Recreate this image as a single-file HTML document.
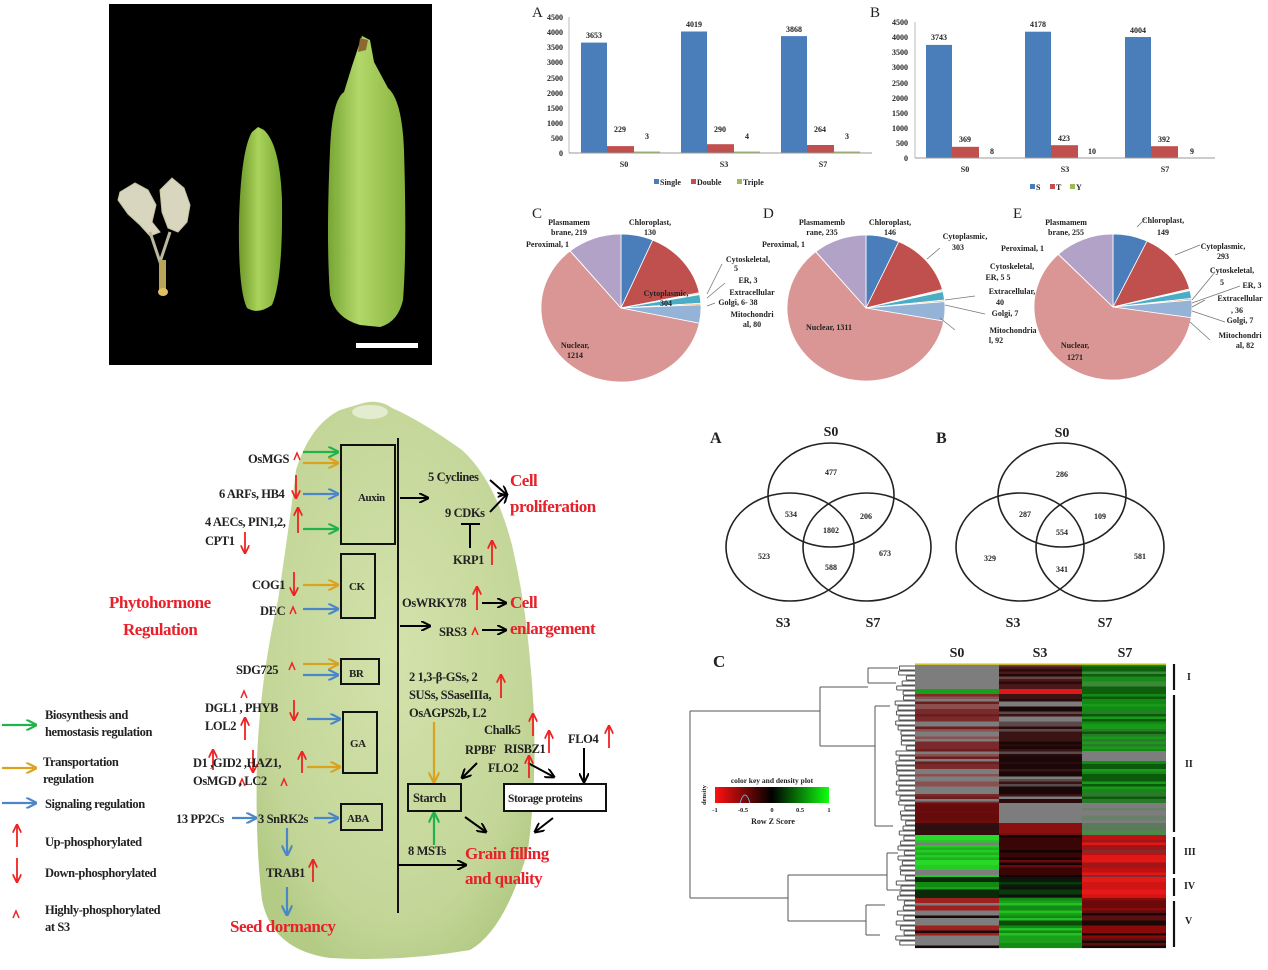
<!DOCTYPE html>
<html><head><meta charset="utf-8"><style>
html,body{margin:0;padding:0;background:#fff;}
svg{display:block;}
.t{font-family:"Liberation Serif",serif;font-weight:bold;fill:#222;}
.s8{font-size:8px}.s9{font-size:9px}.s10{font-size:10px}.s11{font-size:11px}.s12{font-size:12.5px;letter-spacing:-0.4px}
.r{font-family:"Liberation Serif",serif;font-weight:bold;fill:#e8202a;font-size:17px;letter-spacing:-0.5px}
</style></head><body>
<svg id="S" width="1268" height="970" viewBox="0 0 1268 970" xmlns="http://www.w3.org/2000/svg">
<defs>
<linearGradient id="gs" x1="0" x2="1"><stop offset="0" stop-color="#6f9a2a"/><stop offset="0.45" stop-color="#a9d35a"/><stop offset="1" stop-color="#7aa833"/></linearGradient>
<linearGradient id="gb" x1="0" x2="1"><stop offset="0" stop-color="#77a533"/><stop offset="0.4" stop-color="#b2d86a"/><stop offset="1" stop-color="#86b23c"/></linearGradient>
<radialGradient id="seed" cx="0.5" cy="0.45" r="0.6"><stop offset="0" stop-color="#d3e2ab"/><stop offset="0.8" stop-color="#c3d698"/><stop offset="1" stop-color="#b4cb86"/></radialGradient>
<linearGradient id="ck" x1="0" x2="1"><stop offset="0" stop-color="#ff1010"/><stop offset="0.5" stop-color="#000"/><stop offset="1" stop-color="#10ff10"/></linearGradient>
<marker id="ab" viewBox="0 0 10 10" refX="9" refY="5" markerWidth="5" markerHeight="5" orient="auto"><path d="M0,0 L10,5 L0,10" fill="none" stroke="#000" stroke-width="2"/></marker>
<marker id="ag" viewBox="0 0 10 10" refX="9" refY="5" markerWidth="5" markerHeight="5" orient="auto"><path d="M0,0 L10,5 L0,10" fill="none" stroke="#22b24c" stroke-width="2"/></marker>
<marker id="ao" viewBox="0 0 10 10" refX="9" refY="5" markerWidth="5" markerHeight="5" orient="auto"><path d="M0,0 L10,5 L0,10" fill="none" stroke="#d9a21f" stroke-width="2"/></marker>
<marker id="au" viewBox="0 0 10 10" refX="9" refY="5" markerWidth="5" markerHeight="5" orient="auto"><path d="M0,0 L10,5 L0,10" fill="none" stroke="#4a86c8" stroke-width="2"/></marker>
<marker id="ar" viewBox="0 0 10 10" refX="9" refY="5" markerWidth="5" markerHeight="5" orient="auto"><path d="M0,0 L10,5 L0,10" fill="none" stroke="#ee2222" stroke-width="2"/></marker>
</defs>

<!-- PHOTO -->
<rect x="109" y="4" width="323" height="361" fill="#000"/>
<g fill="#d9d6c0" stroke="#c9c3a0" stroke-width="1">
<path d="M120,192 L135,183 L148,190 L156,205 L152,222 L160,232 L150,236 L140,225 L128,214 L118,200Z"/>
<path d="M160,190 L172,178 L184,188 L190,205 L187,222 L178,232 L168,228 L162,212Z"/>
</g>
<path d="M150,232 L160,262 L170,232" fill="none" stroke="#bdb9a0" stroke-width="3"/>
<rect x="159" y="260" width="7" height="30" fill="#b9a55a"/>
<ellipse cx="163" cy="292" rx="5" ry="4" fill="#e0c060"/>
<path d="M258,127 L264,130 Q280,145 282,200 Q283,280 272,305 Q258,315 247,308 Q238,290 239,220 Q241,150 252,132Z" fill="url(#gs)"/>
<path d="M362,36 L370,40 L374,62 L388,88 Q402,100 404,150 Q407,250 403,300 Q398,322 380,327 L360,325 Q335,318 330,295 Q326,240 330,150 Q332,100 344,92 L352,66Z" fill="url(#gb)"/>
<path d="M360,38 L368,40 L366,50 L358,52Z" fill="#8a6a30"/>
<rect x="356" y="343" width="62" height="5" fill="#fff"/>

<!-- BAR CHART A -->
<text class="t" x="532" y="17" style="font-size:15px;font-weight:normal">A</text>
<g class="t s8" text-anchor="end">
<text x="563" y="156">0</text><text x="563" y="141">500</text><text x="563" y="126">1000</text><text x="563" y="111">1500</text><text x="563" y="96">2000</text><text x="563" y="81">2500</text><text x="563" y="65">3000</text><text x="563" y="50">3500</text><text x="563" y="35">4000</text><text x="563" y="20">4500</text>
</g>
<line x1="569" y1="17" x2="569" y2="153" stroke="#bbb"/>
<g>
<rect x="581" y="42.6" width="26" height="110.4" fill="#4a7ebb"/><rect x="607" y="146.1" width="27" height="6.9" fill="#c0504d"/><rect x="634" y="151.5" width="26" height="1.5" fill="#9bbb59"/>
<rect x="681" y="31.5" width="26" height="121.5" fill="#4a7ebb"/><rect x="707" y="144.2" width="27" height="8.8" fill="#c0504d"/><rect x="734" y="151.5" width="26" height="1.5" fill="#9bbb59"/>
<rect x="781" y="36.1" width="26" height="116.9" fill="#4a7ebb"/><rect x="807" y="145" width="27" height="8" fill="#c0504d"/><rect x="834" y="151.5" width="26" height="1.5" fill="#9bbb59"/>
</g>
<line x1="569" y1="153" x2="872" y2="153" stroke="#999"/>
<g class="t s8" text-anchor="middle">
<text x="594" y="38">3653</text><text x="620" y="132">229</text><text x="647" y="139">3</text>
<text x="694" y="27">4019</text><text x="720" y="132">290</text><text x="747" y="139">4</text>
<text x="794" y="32">3868</text><text x="820" y="132">264</text><text x="847" y="139">3</text>
<text x="624" y="167">S0</text><text x="724" y="167">S3</text><text x="823" y="167">S7</text>
</g>
<rect x="654" y="179" width="5" height="5" fill="#4a7ebb"/><text class="t s8" x="660" y="185">Single</text>
<rect x="691" y="179" width="5" height="5" fill="#c0504d"/><text class="t s8" x="697" y="185">Double</text>
<rect x="737" y="179" width="5" height="5" fill="#9bbb59"/><text class="t s8" x="743" y="185">Triple</text>

<!-- BAR CHART B -->
<text class="t" x="870" y="17" style="font-size:15px;font-weight:normal">B</text>
<g class="t s8" text-anchor="end">
<text x="908" y="161">0</text><text x="908" y="146">500</text><text x="908" y="131">1000</text><text x="908" y="116">1500</text><text x="908" y="101">2000</text><text x="908" y="86">2500</text><text x="908" y="70">3000</text><text x="908" y="55">3500</text><text x="908" y="40">4000</text><text x="908" y="25">4500</text>
</g>
<line x1="915" y1="22" x2="915" y2="158" stroke="#bbb"/>
<rect x="926" y="44.9" width="26" height="113.1" fill="#4a7ebb"/><rect x="952" y="146.8" width="27" height="11.2" fill="#c0504d"/>
<rect x="1025" y="31.7" width="26" height="126.3" fill="#4a7ebb"/><rect x="1051" y="145.2" width="27" height="12.8" fill="#c0504d"/>
<rect x="1125" y="37" width="26" height="121" fill="#4a7ebb"/><rect x="1151" y="146.2" width="27" height="11.8" fill="#c0504d"/>
<line x1="915" y1="158" x2="1215" y2="158" stroke="#999"/>
<g class="t s8" text-anchor="middle">
<text x="939" y="40">3743</text><text x="965" y="142">369</text><text x="992" y="154">8</text>
<text x="1038" y="27">4178</text><text x="1064" y="141">423</text><text x="1092" y="154">10</text>
<text x="1138" y="33">4004</text><text x="1164" y="142">392</text><text x="1192" y="154">9</text>
<text x="965" y="172">S0</text><text x="1065" y="172">S3</text><text x="1165" y="172">S7</text>
</g>
<rect x="1030" y="184" width="5" height="5" fill="#4a7ebb"/><text class="t s8" x="1036" y="190">S</text>
<rect x="1050" y="184" width="5" height="5" fill="#c0504d"/><text class="t s8" x="1056" y="190">T</text>
<rect x="1070" y="184" width="5" height="5" fill="#9bbb59"/><text class="t s8" x="1076" y="190">Y</text>

<!-- PIES -->
<g id="pies"></g>
<g class="t" style="font-size:15px;font-weight:normal"><text x="532" y="218">C</text><text x="763" y="218">D</text><text x="1013" y="218">E</text></g>
<g class="t s8" text-anchor="middle">
<text x="569" y="225">Plasmamem</text><text x="569" y="235">brane, 219</text>
<text x="650" y="225">Chloroplast,</text><text x="650" y="235">130</text>
<text x="666" y="296">Cytoplasmic,</text><text x="666" y="306">304</text>
<text x="748" y="262">Cytoskeletal,</text><text x="736" y="271">5</text>
<text x="748" y="283">ER, 3</text><text x="752" y="295">Extracellular</text><text x="738" y="305">Golgi, 6- 38</text>
<text x="752" y="317">Mitochondri</text><text x="752" y="327">al, 80</text>
<text x="575" y="348">Nuclear,</text><text x="575" y="358">1214</text>
<text x="822" y="225">Plasmamemb</text><text x="822" y="235">rane, 235</text>
<text x="890" y="225">Chloroplast,</text><text x="890" y="235">146</text>
<text x="965" y="239">Cytoplasmic,</text><text x="958" y="250">303</text>
<text x="1012" y="269">Cytoskeletal,</text><text x="998" y="280">ER, 5 5</text>
<text x="1012" y="294">Extracellular,</text><text x="1000" y="305">40</text>
<text x="1005" y="316">Golgi, 7</text><text x="1013" y="333">Mitochondria</text><text x="996" y="343">l, 92</text>
<text x="829" y="330">Nuclear, 1311</text>
<text x="1066" y="225">Plasmamem</text><text x="1066" y="235">brane, 255</text>
<text x="1163" y="223">Chloroplast,</text><text x="1163" y="235">149</text>
<text x="1223" y="249">Cytoplasmic,</text><text x="1223" y="259">293</text>
<text x="1232" y="273">Cytoskeletal,</text><text x="1222" y="285">5</text><text x="1252" y="288">ER, 3</text>
<text x="1240" y="301">Extracellular</text><text x="1237" y="313">, 36</text>
<text x="1240" y="323">Golgi, 7</text><text x="1240" y="338">Mitochondri</text><text x="1245" y="348">al, 82</text>
<text x="1075" y="348">Nuclear,</text><text x="1075" y="360">1271</text>
</g>
<g class="t s8"><text x="526" y="247">Peroximal, 1</text><text x="762" y="247">Peroximal, 1</text><text x="1001" y="251">Peroximal, 1</text></g>
<g fill="none" stroke="#777" stroke-width="0.8">
<path d="M927,259 L940,248"/><path d="M945,300 L975,296"/><path d="M945,305 L985,314"/><path d="M940,318 L955,330"/>
<path d="M1137,227 L1145,219"/><path d="M1175,255 L1200,245"/><path d="M1192,300 L1215,272"/><path d="M1192,303 L1240,286"/><path d="M1192,307 L1205,300"/><path d="M1192,311 L1225,322"/><path d="M1190,322 L1210,340"/>
<path d="M707,294 L722,264"/><path d="M707,298 L725,283"/><path d="M707,306 L715,303"/>
</g>

<!-- SEED DIAGRAM -->
<path d="M360,404 Q378,398 392,408 Q420,420 462,450 Q495,480 512,545 Q525,600 530,660 Q540,760 528,850 Q505,930 470,950 Q400,962 330,958 Q272,950 262,900 Q255,840 257,760 Q260,680 278,600 Q290,520 296,470 Q310,425 340,410Z" fill="url(#seed)"/>
<ellipse cx="370" cy="412" rx="18" ry="7" fill="#e4ecd0"/>
<g fill="none" stroke="#111" stroke-width="2">
<rect x="341" y="445" width="54" height="99"/><rect x="341" y="554" width="34" height="64"/><rect x="341" y="659" width="38" height="25"/><rect x="343" y="712" width="34" height="61"/><rect x="341" y="804" width="41" height="26"/>
<rect x="408" y="784" width="53" height="27"/><rect x="504" y="784" width="102" height="27" fill="#fff"/>
<line x1="398" y1="438" x2="398" y2="913"/>
</g>
<rect x="505" y="785" width="100" height="25" fill="#fff"/>
<g fill="none" stroke-width="2.2">
<line x1="303" y1="452" x2="338" y2="452" stroke="#22b24c" marker-end="url(#ag)"/>
<line x1="303" y1="463" x2="338" y2="463" stroke="#d9a21f" marker-end="url(#ao)"/>
<line x1="303" y1="494" x2="338" y2="494" stroke="#4a86c8" marker-end="url(#au)"/>
<line x1="303" y1="529" x2="338" y2="529" stroke="#22b24c" marker-end="url(#ag)"/>
<line x1="303" y1="585" x2="338" y2="585" stroke="#d9a21f" marker-end="url(#ao)"/>
<line x1="303" y1="609" x2="338" y2="609" stroke="#4a86c8" marker-end="url(#au)"/>
<line x1="303" y1="664" x2="338" y2="664" stroke="#d9a21f" marker-end="url(#ao)"/>
<line x1="303" y1="675" x2="338" y2="675" stroke="#4a86c8" marker-end="url(#au)"/>
<line x1="307" y1="719" x2="340" y2="719" stroke="#4a86c8" marker-end="url(#au)"/>
<line x1="307" y1="767" x2="340" y2="767" stroke="#d9a21f" marker-end="url(#ao)"/>
<line x1="232" y1="818" x2="256" y2="818" stroke="#4a86c8" marker-end="url(#au)"/>
<line x1="314" y1="818" x2="338" y2="818" stroke="#4a86c8" marker-end="url(#au)"/>
<line x1="287" y1="828" x2="287" y2="855" stroke="#4a86c8" marker-end="url(#au)"/>
<line x1="287" y1="887" x2="287" y2="915" stroke="#4a86c8" marker-end="url(#au)"/>
<line x1="434" y1="722" x2="434" y2="782" stroke="#d9a21f" marker-end="url(#ao)"/>
<line x1="434" y1="845" x2="434" y2="813" stroke="#22b24c" marker-end="url(#ag)"/>
<line x1="2" y1="725" x2="36" y2="725" stroke="#22b24c" marker-end="url(#ag)"/>
<line x1="2" y1="768" x2="36" y2="768" stroke="#d9a21f" marker-end="url(#ao)"/>
<line x1="2" y1="803" x2="36" y2="803" stroke="#4a86c8" marker-end="url(#au)"/>
</g>
<g fill="none" stroke="#000" stroke-width="2">
<line x1="400" y1="498" x2="428" y2="498" marker-end="url(#ab)"/>
<line x1="490" y1="480" x2="507" y2="495" marker-end="url(#ab)"/>
<line x1="490" y1="512" x2="507" y2="494" marker-end="url(#ab)"/>
<line x1="470" y1="525" x2="470" y2="548"/><line x1="461" y1="524" x2="480" y2="524"/>
<line x1="482" y1="603" x2="506" y2="603" marker-end="url(#ab)"/>
<line x1="400" y1="626" x2="430" y2="626" marker-end="url(#ab)"/>
<line x1="482" y1="630" x2="506" y2="630" marker-end="url(#ab)"/>
<line x1="477" y1="763" x2="462" y2="778" marker-end="url(#ab)"/>
<line x1="528" y1="763" x2="554" y2="777" marker-end="url(#ab)"/>
<line x1="584" y1="748" x2="584" y2="782" marker-end="url(#ab)"/>
<line x1="465" y1="817" x2="486" y2="832" marker-end="url(#ab)"/>
<line x1="553" y1="818" x2="535" y2="832" marker-end="url(#ab)"/>
<line x1="398" y1="865" x2="466" y2="865" marker-end="url(#ab)"/>
</g>
<g fill="none" stroke="#ee2222" stroke-width="1.8">
<line x1="296" y1="475" x2="296" y2="498" marker-end="url(#ar)"/>
<line x1="298" y1="533" x2="298" y2="508" marker-end="url(#ar)"/>
<line x1="245" y1="532" x2="245" y2="553" marker-end="url(#ar)"/>
<line x1="294" y1="572" x2="294" y2="595" marker-end="url(#ar)"/>
<line x1="492" y1="565" x2="492" y2="541" marker-end="url(#ar)"/>
<line x1="477" y1="610" x2="477" y2="587" marker-end="url(#ar)"/>
<line x1="501" y1="698" x2="501" y2="675" marker-end="url(#ar)"/>
<line x1="294" y1="700" x2="294" y2="720" marker-end="url(#ar)"/>
<line x1="245" y1="740" x2="245" y2="718" marker-end="url(#ar)"/>
<line x1="213" y1="770" x2="213" y2="750" marker-end="url(#ar)"/>
<line x1="253" y1="750" x2="253" y2="772" marker-end="url(#ar)"/>
<line x1="302" y1="773" x2="302" y2="752" marker-end="url(#ar)"/>
<line x1="313" y1="882" x2="313" y2="860" marker-end="url(#ar)"/>
<line x1="533" y1="736" x2="533" y2="714" marker-end="url(#ar)"/>
<line x1="549" y1="753" x2="549" y2="731" marker-end="url(#ar)"/>
<line x1="529" y1="778" x2="529" y2="756" marker-end="url(#ar)"/>
<line x1="609" y1="748" x2="609" y2="726" marker-end="url(#ar)"/>
<line x1="17" y1="847" x2="17" y2="825" marker-end="url(#ar)"/>
<line x1="17" y1="858" x2="17" y2="882" marker-end="url(#ar)"/>
</g>
<g fill="none" stroke="#ee2222" stroke-width="1.5">
<path d="M294,460 L297,453 L300,460"/><path d="M290,614 L293,607 L296,614"/><path d="M289,670 L292,663 L295,670"/>
<path d="M472,635 L475,628 L478,635"/><path d="M241,698 L244,691 L247,698"/><path d="M239,786 L242,779 L245,786"/><path d="M281,786 L284,779 L287,786"/>
<path d="M13,918 L16,911 L19,918"/>
</g>
<g class="t s12">
<text x="248" y="463">OsMGS</text><text x="219" y="498">6 ARFs, HB4</text><text x="205" y="526">4 AECs, PIN1,2,</text><text x="205" y="545">CPT1</text>
<text x="358" y="501" style="font-size:11px">Auxin</text><text x="349" y="590" style="font-size:11px">CK</text><text x="349" y="677" style="font-size:11px">BR</text><text x="350" y="747" style="font-size:11px">GA</text><text x="347" y="822" style="font-size:11px">ABA</text>
<text x="252" y="589">COG1</text><text x="260" y="615">DEC</text><text x="236" y="674">SDG725</text>
<text x="428" y="481">5 Cyclines</text><text x="445" y="517">9 CDKs</text><text x="453" y="564">KRP1</text>
<text x="402" y="607">OsWRKY78</text><text x="439" y="636">SRS3</text>
<text x="409" y="681">2 1,3-β-GSs, 2</text><text x="409" y="699">SUSs, SSaseIIIa,</text><text x="409" y="717">OsAGPS2b, L2</text>
<text x="205" y="712">DGL1   , PHYB</text><text x="205" y="730">LOL2</text>
<text x="193" y="767">D1  ,GID2  ,HAZ1,</text><text x="193" y="785">OsMGD  , LC2</text>
<text x="176" y="823">13 PP2Cs</text><text x="258" y="823">3 SnRK2s</text><text x="266" y="877">TRAB1</text>
<text x="484" y="734">Chalk5</text><text x="465" y="754">RPBF</text><text x="504" y="753">RISBZ1</text><text x="488" y="772">FLO2</text><text x="568" y="743">FLO4</text>
<text x="413" y="802">Starch</text><text x="508" y="802" style="font-size:11.5px">Storage proteins</text><text x="408" y="855">8 MSTs</text>
<text x="45" y="719">Biosynthesis and</text><text x="45" y="736">hemostasis regulation</text>
<text x="43" y="766">Transportation</text><text x="43" y="783">regulation</text>
<text x="45" y="808">Signaling regulation</text><text x="45" y="846">Up-phosphorylated</text><text x="45" y="877">Down-phosphorylated</text>
<text x="45" y="914">Highly-phosphorylated</text><text x="45" y="931">at S3</text>
</g>
<g class="r">
<text x="510" y="486">Cell</text><text x="510" y="512">proliferation</text>
<text x="510" y="608">Cell</text><text x="510" y="634">enlargement</text>
<text x="109" y="608">Phytohormone</text><text x="123" y="635">Regulation</text>
<text x="465" y="859">Grain filling</text><text x="465" y="884">and quality</text>
<text x="230" y="932">Seed dormancy</text>
</g>

<!-- VENN -->
<g fill="none" stroke="#222" stroke-width="1.6">
<ellipse cx="831" cy="495" rx="63" ry="52"/><ellipse cx="790" cy="547" rx="64" ry="54"/><ellipse cx="867" cy="547" rx="64" ry="54"/>
<ellipse cx="1062" cy="495" rx="64" ry="52"/><ellipse cx="1020" cy="547" rx="64" ry="54"/><ellipse cx="1100" cy="547" rx="64" ry="54"/>
</g>
<g class="t" style="font-size:16px"><text x="710" y="443">A</text><text x="936" y="443">B</text><text x="713" y="667" style="font-size:17px">C</text></g>
<g class="t" style="font-size:14px" text-anchor="middle">
<text x="831" y="436">S0</text><text x="783" y="627">S3</text><text x="873" y="627">S7</text>
<text x="1062" y="437">S0</text><text x="1013" y="627">S3</text><text x="1105" y="627">S7</text>
<text x="957" y="657">S0</text><text x="1040" y="657">S3</text><text x="1125" y="657">S7</text>
</g>
<g class="t s8" text-anchor="middle">
<text x="831" y="475">477</text><text x="791" y="517">534</text><text x="866" y="519">206</text><text x="831" y="533">1802</text><text x="764" y="559">523</text><text x="885" y="556">673</text><text x="831" y="570">588</text>
<text x="1062" y="477">286</text><text x="1025" y="517">287</text><text x="1100" y="519">109</text><text x="1062" y="535">554</text><text x="990" y="561">329</text><text x="1140" y="559">581</text><text x="1062" y="572">341</text>
</g>

<!-- HEATMAP -->
<g id="hm"></g>
<line x1="915" y1="664" x2="1166" y2="664" stroke="#e8d820" stroke-width="1.5"/>
<g stroke="#111" stroke-width="2.2">
<line x1="1174" y1="664" x2="1174" y2="690"/><line x1="1174" y1="695" x2="1174" y2="832"/><line x1="1174" y1="837" x2="1174" y2="874"/><line x1="1174" y1="878" x2="1174" y2="896"/><line x1="1174" y1="901" x2="1174" y2="947"/>
</g>
<g class="t s10"><text x="1187" y="680">I</text><text x="1185" y="767">II</text><text x="1184" y="855">III</text><text x="1184" y="889">IV</text><text x="1185" y="924">V</text></g>
<g id="dg" fill="none" stroke="#555" stroke-width="1">
<path d="M690,711 V898 M690,711 H820 M690,898 H788"/>
<path d="M820,687 V746 M820,687 H868 M820,746 H875"/>
<path d="M868,668 V683 M868,668 H898 M868,683 H896"/>
<path d="M875,706 V826 M875,706 H890 M875,826 H893"/>
<path d="M788,875 V921 M788,875 H887 M788,921 H866"/>
<path d="M887,853 V890 M887,853 H898 M887,890 H900"/>
<path d="M866,905 V935 M866,905 H885 M866,935 H880"/>
</g>
<rect x="715" y="787" width="114" height="16" fill="url(#ck)"/>
<path d="M740,803 Q745,787 750,803" fill="none" stroke="#6cf" stroke-width="0.8"/>
<g class="t" style="font-size:6.5px" text-anchor="middle">
<text x="772" y="783" style="font-size:7.5px">color key and density plot</text>
<text x="715" y="812">-1</text><text x="743" y="812">-0.5</text><text x="772" y="812">0</text><text x="800" y="812">0.5</text><text x="829" y="812">1</text>
<text x="773" y="824" style="font-size:8px">Row Z Score</text>
<text x="706" y="795" transform="rotate(-90 706 795)">density</text>
</g>
</svg>
<script>
(function(){
var NS="http://www.w3.org/2000/svg";
function el(p,t,a){var e=document.createElementNS(NS,t);for(var k in a)e.setAttribute(k,a[k]);p.appendChild(e);return e;}
var cols=["#4a7ebb","#c0504d","#9bbb59","#8064a2","#4bacc6","#f79646","#95b3d7","#d99694","#c3d69b","#b3a2c7"];
var pg=document.getElementById("pies");
function pie(cx,cy,rx,ry,v){var tot=0;v.forEach(function(x){tot+=x});var a=-Math.PI/2;
v.forEach(function(x,i){var b=a+x/tot*2*Math.PI;var x1=cx+rx*Math.cos(a),y1=cy+ry*Math.sin(a),x2=cx+rx*Math.cos(b),y2=cy+ry*Math.sin(b);
el(pg,"path",{d:"M"+cx+","+cy+" L"+x1+","+y1+" A"+rx+","+ry+" 0 "+((b-a)>Math.PI?1:0)+" 1 "+x2+","+y2+"Z",fill:cols[i],stroke:"#fff","stroke-width":"0.8"});a=b;});}
pie(621,308,80,74,[130,304,5,3,38,6,80,1214,1,219]);
pie(866,308,79,73,[146,303,5,5,40,7,92,1311,1,235]);
pie(1113,307,79,73,[149,293,5,3,36,7,82,1271,1,255]);
var hm=document.getElementById("hm");var s=7;function rnd(){s=(s*9301+49297)%233280;return s/233280;}
function pick(a){return a[Math.floor(rnd()*a.length)];}
var G="#7d7d7d";
var spec=[
[664,689,[G],["#1e0808","#4a1818","#6a4444","#2a0a0a"],["#1a8a1a","#0e5e0e","#3a8a3a"]],
[689,694,["#18a018"],["#e01818"],["#0e5e0e"]],
[694,803,[G,G,"#7a2a2a","#8a5050","#6a1e1e"],["#1a0808","#3a1414",G,"#5a4a4a","#2a0a0a"],["#138a13","#0b5a0b","#2a7a2a","#1a9a1a"]],
[751,760,null,null,[G]],
[803,823,["#6a0d0d","#650b0b"],[G],["#6a806a",G]],
[823,835,["#2a1010","#3a0d0d"],["#8a1010","#7a0d0d"],["#4a8a4a","#5a7a5a"]],
[835,877,["#22cc22","#1fb01f","#2ad82a",G],["#120404","#3a0505","#6a0a0a"],["#e01818","#a01515","#7a3030","#c01010"]],
[877,898,["#18a018","#0a2a0a","#128a12"],["#0a1a0a","#0a3a0a","#101010"],["#e81818","#d01515"]],
[898,947,[G,"#a02020","#1a0808",G],["#138a13","#22c022","#0a4a0a","#1aa01a"],["#8a0a0a","#5a1010","#1a0808","#6a0a0a"]]
];
var xs=[915,999,1082,1166];
spec.forEach(function(sp){for(var y=sp[0];y<sp[1];y+=2.5){for(var c=0;c<3;c++){if(!sp[c+2])continue;
el(hm,"rect",{x:xs[c],y:y,width:xs[c+1]-xs[c],height:2.6,fill:pick(sp[c+2])});}}});
var dg=document.getElementById("dg");
for(var y=666;y<946;y+=5){var x0=895+rnd()*12;el(dg,"path",{d:"M"+x0+","+y+" V"+(y+4)+" M"+x0+","+y+" H915 M"+x0+","+(y+4)+" H915"});}
})();
</script>
</body></html>
